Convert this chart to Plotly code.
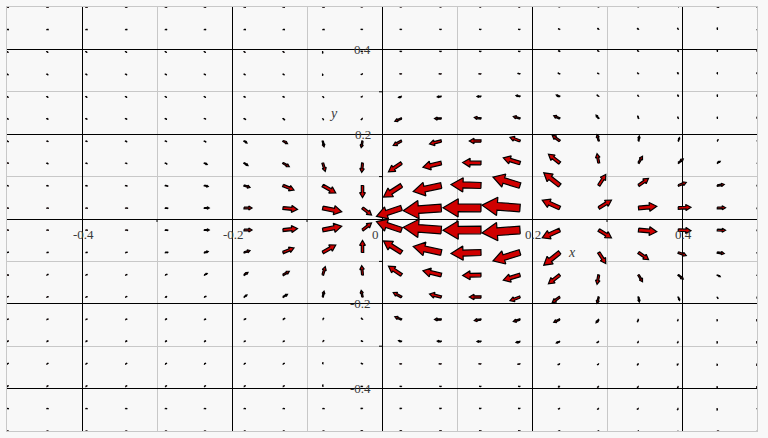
import plotly.graph_objects as go
import math

# Grid of sample points (x from left to right, y from top to bottom)
X_GRID = [-0.5, -0.447, -0.395, -0.342, -0.289, -0.237, -0.184, -0.132, -0.079, -0.026,
          0.026, 0.079, 0.132, 0.184, 0.237, 0.289, 0.342, 0.395, 0.447, 0.5]
Y_GRID = [0.5, 0.447, 0.395, 0.342, 0.289, 0.237, 0.184, 0.132, 0.079, 0.026,
          -0.026, -0.079, -0.132, -0.184, -0.237, -0.289, -0.342, -0.395, -0.447, -0.5]

# Field components as drawn (x component), one row per Y_GRID value
U = [
    [0, 0, 0, 0, 0, 0, 0, 0, 0, -0.3, -1, -1, -1, -1, -1, -0.7, -0.5, 0, 0, 0],
    [0.3, 0.3, 0.3, 0.3, 0.3, 0.3, 0.3, 0.3, 0, -0.3, -1.2, -1.2, -1.2, -1.2, -1.2, -0.7, -0.7, -0.3, 0, 0],
    [0.3, 0.3, 0.3, 0.3, 0.3, 0.3, 0.3, 0.3, 0, -0.5, -1.5, -1.7, -1.7, -1.7, -1.5, -1, -0.7, -0.3, 0, 0],
    [0.5, 0.5, 0.5, 0.5, 0.5, 0.5, 0.5, 0.5, 0, -0.7, -2, -2.5, -2.5, -2.5, -2, -1.5, -1, -0.5, 0, 0],
    [0.5, 0.5, 0.5, 0.5, 0.5, 0.5, 1, 1, 0.5, -1, -3, -4, -4, -4, -3.5, -2, -1, -0.5, 0, 0],
    [0.7, 0.7, 0.7, 0.7, 1, 1.5, 2, 2, 1, -1.5, -6.7, -6.7, -6.7, -6.7, -6, -2.7, -1, -0.7, 0, 0],
    [0.7, 1, 1, 1, 1.5, 2, 3, 4.5, 1.3, -1.3, -8.3, -11.7, -11.7, -10, -7.5, -1.7, 0.8, 1.3, 1, 0.7],
    [1, 1, 1.5, 1.5, 2, 3, 4, 6.3, 2.5, -0.8, -13, -18.3, -18.3, -16.7, -11.3, -1.7, 4, 5, 3, 2.3],
    [1, 1.5, 1.5, 2, 3, 4, 6, 11, 13, 0, -18, -28, -30, -27, -16, 7, 10, 8, 7, 5],
    [1.5, 2, 2, 2.5, 3, 5, 8, 14.5, 19, 9, -25, -38, -38, -38, -17.5, 12.7, 18.3, 12.7, 8.3, 6],
    [1.5, 2, 2, 2.5, 3, 5, 8, 14.5, 19, 9, -25, -38, -38, -38, -17.5, 12.7, 18.3, 12.7, 8.3, 6],
    [1, 1.5, 1.5, 2, 3, 4, 6, 11, 13, 0, -18, -28, -30, -27, -16, 7, 10, 8, 7, 5],
    [1, 1, 1.5, 1.5, 2, 3, 4, 6.3, 2.5, -0.8, -13, -18.3, -18.3, -16.7, -11.3, -1.7, 4, 5, 3, 2.3],
    [0.7, 1, 1, 1, 1.5, 2, 3, 4.5, 1.3, -1.3, -8.3, -11.7, -11.7, -10, -7.5, -1.7, 0.8, 1.3, 1, 0.7],
    [0.7, 0.7, 0.7, 0.7, 1, 1.5, 2, 2, 1, -1.5, -6.7, -6.7, -6.7, -6.7, -6, -2.7, -1, -0.7, 0, 0],
    [0.5, 0.5, 0.5, 0.5, 0.5, 0.5, 1, 1, 0.5, -1, -3, -4, -4, -4, -3.5, -2, -1, -0.5, 0, 0],
    [0.5, 0.5, 0.5, 0.5, 0.5, 0.5, 0.5, 0.5, 0, -0.7, -2, -2.5, -2.5, -2.5, -2, -1.5, -1, -0.5, 0, 0],
    [0.3, 0.3, 0.3, 0.3, 0.3, 0.3, 0.3, 0.3, 0, -0.5, -1.5, -1.7, -1.7, -1.7, -1.5, -1, -0.7, -0.3, 0, 0],
    [0.3, 0.3, 0.3, 0.3, 0.3, 0.3, 0.3, 0.3, 0, -0.3, -1.2, -1.2, -1.2, -1.2, -1.2, -0.7, -0.7, -0.3, 0, 0],
    [0, 0, 0, 0, 0, 0, 0, 0, 0, -0.3, -1, -1, -1, -1, -1, -0.7, -0.5, 0, 0, 0],
]

# Field components as drawn (y component, up positive)
V = [
    [0, 0, 0, 0, 0, 0, 0, 0, 0, 0, 0, 0, 0, 0, 0.3, 0.3, 0.3, 0.3, 0, 0],
    [0, 0, 0, 0, 0, 0, 0, 0, 0, 0, 0, 0, 0, 0, 0.5, 0.5, 0.5, 0.5, 0.5, 0],
    [-0.2, -0.2, -0.2, -0.2, -0.2, -0.2, -0.2, -0.2, -0.2, 0, 0, 0, 0, 0, 0.7, 0.7, 0.7, 0.7, 0.7, 0.3],
    [-0.3, -0.3, -0.3, -0.3, -0.3, -0.3, -0.3, -0.3, -0.3, -0.3, 0, 0, 0, 0.5, 1, 1, 1, 0.7, 0.7, 0.5],
    [-0.3, -0.3, -0.3, -0.3, -0.3, -0.3, -0.5, -0.5, -0.5, -0.5, -1, -0.5, 0, 1, 1.5, 1.5, 1.5, 1, 1, 0.7],
    [-0.3, -0.3, -0.3, -0.3, -0.5, -0.5, -1, -1.5, -1.5, -1.5, -2.7, 0, 1, 2, 2.7, 3.3, 2.7, 1.7, 1.7, 1],
    [-0.3, -0.3, -0.3, -0.5, -0.5, -1, -2, -2.7, -5.8, -6.7, -4.5, -3, 0, 3.7, 5.5, 6.3, 5, 3.3, 1.7, 1],
    [0, -0.5, -0.5, -0.5, -1, -1.5, -2.5, -3.7, -8.3, -9.3, -8.8, -4.2, 0.5, 5.2, 8.8, 9.3, 6.7, 4, 1.8, 1.3],
    [-0.3, -0.3, -0.3, -0.5, -0.5, -1, -2, -4.5, -7.5, -12, -11.5, -6, 1, 8.3, 12.7, 11, 7, 3, 1, 0.8],
    [0, 0, 0, 0, 0, 0, 0, -1.5, -3.7, -7, -8.3, -2.7, 0.3, 2.8, 7.8, 7.8, 1.7, 0.7, 0.3, 0],
    [0, 0, 0, 0, 0, 0, 0, 1.5, 3.7, 7, 8.3, 2.7, -0.3, -2.8, -7.8, -7.8, -1.7, -0.7, -0.3, 0],
    [0.3, 0.3, 0.3, 0.5, 0.5, 1, 2, 4.5, 7.5, 12, 11.5, 6, -1, -8.3, -12.7, -11, -7, -3, -1, -0.8],
    [0, 0.5, 0.5, 0.5, 1, 1.5, 2.5, 3.7, 8.3, 9.3, 8.8, 4.2, -0.5, -5.2, -8.8, -9.3, -6.7, -4, -1.8, -1.3],
    [0.3, 0.3, 0.3, 0.5, 0.5, 1, 2, 2.7, 5.8, 6.7, 4.5, 3, 0, -3.7, -5.5, -6.3, -5, -3.3, -1.7, -1],
    [0.3, 0.3, 0.3, 0.3, 0.5, 0.5, 1, 1.5, 1.5, 1.5, 2.7, 0, -1, -2, -2.7, -3.3, -2.7, -1.7, -1.7, -1],
    [0.3, 0.3, 0.3, 0.3, 0.3, 0.3, 0.5, 0.5, 0.5, 0.5, 1, 0.5, 0, -1, -1.5, -1.5, -1.5, -1, -1, -0.7],
    [0.3, 0.3, 0.3, 0.3, 0.3, 0.3, 0.3, 0.3, 0.3, 0.3, 0, 0, 0, -0.5, -1, -1, -1, -0.7, -0.7, -0.5],
    [0.2, 0.2, 0.2, 0.2, 0.2, 0.2, 0.2, 0.2, 0.2, 0, 0, 0, 0, 0, -0.7, -0.7, -0.7, -0.7, -0.7, -0.3],
    [0, 0, 0, 0, 0, 0, 0, 0, 0, 0, 0, 0, 0, 0, -0.5, -0.5, -0.5, -0.5, -0.5, 0],
    [0, 0, 0, 0, 0, 0, 0, 0, 0, 0, 0, 0, 0, 0, -0.3, -0.3, -0.3, -0.3, 0, 0],
]

MAJOR_TICKS = [-0.4, -0.2, 0, 0.2, 0.4]
MINOR_TICKS = [-0.5, -0.3, -0.1, 0.1, 0.3, 0.5]
X_TICK_LABELS = ["-0.4", "-0.2", "0", "0.2", "0.4"]
Y_TICK_LABELS = ["0.4", "0.2", "-0.2", "-0.4"]
Y_TICK_VALUES = [0.4, 0.2, -0.2, -0.4]

W, H = 768, 438
ML, MR, MT, MB = 7, 11, 7, 7
PX_X = (W - ML - MR) / 1.0   # pixels per x unit
PX_Y = (H - MT - MB) / 1.0   # pixels per y unit

# Build arrow polygons (tail at grid point), computed in pixel space then mapped to data
xs, ys = [], []
for r, yv in enumerate(Y_GRID):
    for c, xv in enumerate(X_GRID):
        u = U[r][c]
        v = V[r][c]
        L = math.hypot(u, v)
        if L < 1.8:
            if L == 0:
                u, v, L = 1.8, 0.0, 1.8
            else:
                s = 1.8 / L
                u, v, L = u * s, v * s, 1.8
        ex, ey = u / L, v / L
        nx, ny = -ey, ex
        h = 0.40 * L
        hw = 0.24 * L
        sw = 0.10 * L
        pts = [
            (nx * sw, ny * sw),
            (ex * (L - h) + nx * sw, ey * (L - h) + ny * sw),
            (ex * (L - h) + nx * hw, ey * (L - h) + ny * hw),
            (ex * L, ey * L),
            (ex * (L - h) - nx * hw, ey * (L - h) - ny * hw),
            (ex * (L - h) - nx * sw, ey * (L - h) - ny * sw),
            (-nx * sw, -ny * sw),
            (nx * sw, ny * sw),
        ]
        for (px, py) in pts:
            xs.append(xv + px / PX_X)
            ys.append(yv + py / PX_Y)
        xs.append(None)
        ys.append(None)

fig = go.Figure()
fig.add_trace(go.Scatter(
    x=xs, y=ys, mode="lines", fill="toself", fillcolor="#d00000",
    line=dict(color="black", width=1.2), hoverinfo="skip", showlegend=False,
))

shapes = []
for t in MINOR_TICKS:
    if abs(t) < 0.5:
        shapes.append(dict(type="line", xref="x", yref="y", x0=t, x1=t, y0=0, y1=-3 / PX_Y,
                           line=dict(color="black", width=1), layer="above"))
        shapes.append(dict(type="line", xref="x", yref="y", x0=0, x1=-3 / PX_X, y0=t, y1=t,
                           line=dict(color="black", width=1), layer="above"))

annotations = []
font = dict(family="Liberation Serif, Times New Roman, serif", size=13, color="#3a3a3a")
for t, lab in zip(MAJOR_TICKS, X_TICK_LABELS):
    annotations.append(dict(x=t, y=0, xref="x", yref="y", text=lab, showarrow=False,
                            xanchor="center", yanchor="middle",
                            xshift=(-7 if t == 0 else 1), yshift=-15, font=font))
for t, lab in zip(Y_TICK_VALUES, Y_TICK_LABELS):
    annotations.append(dict(x=0, y=t, xref="x", yref="y", text=lab, showarrow=False,
                            xanchor="right", yanchor="middle", xshift=-9, yshift=0, font=font))
annotations.append(dict(x=0.253, y=-0.08, xref="x", yref="y", text="<i>x</i>", showarrow=False,
                        xanchor="center", yanchor="middle", font=dict(family=font["family"], size=14, color="#3a3a3a")))
annotations.append(dict(x=-0.065, y=0.249, xref="x", yref="y", text="<i>y</i>", showarrow=False,
                        xanchor="center", yanchor="middle", font=dict(family=font["family"], size=14, color="#3a3a3a")))

axis_common = dict(
    range=[-0.5, 0.5], tickvals=MAJOR_TICKS, showticklabels=False, ticks="",
    showgrid=True, gridcolor="black", gridwidth=1,
    minor=dict(tickvals=MINOR_TICKS, showgrid=True, gridcolor="#c8c8c8", gridwidth=1, ticks=""),
    zeroline=True, zerolinecolor="black", zerolinewidth=1,
    showline=True, mirror=True, linecolor="#c8c8c8", linewidth=1, fixedrange=True,
)
fig.update_layout(
    width=W, height=H,
    margin=dict(l=ML, r=MR, t=MT, b=MB),
    paper_bgcolor="#f8f8f8", plot_bgcolor="#f8f8f8",
    xaxis=axis_common, yaxis=axis_common,
    shapes=shapes, annotations=annotations,
)
fig.write_html("out.html", config={"displayModeBar": False},
               post_script="document.body.style.margin='0px';document.body.style.overflow='hidden';document.body.style.background='#f8f8f8';")
